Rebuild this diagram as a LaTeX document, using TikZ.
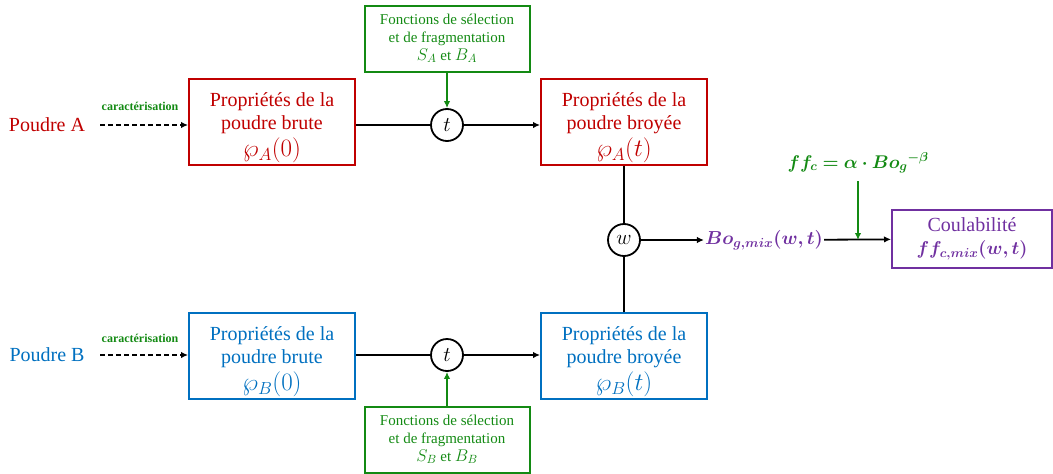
\RequirePackage{fix-cm}
\documentclass[tikz,border=0pt]{standalone}
\usepackage{amsmath,amssymb,bm}
\usepackage{fontspec}
\setmainfont{Liberation Serif}
\newfontfamily\tnr{Liberation Serif}
\usetikzlibrary{arrows.meta}
\definecolor{cred}{HTML}{C00000}
\definecolor{cblue}{HTML}{0070C0}
\definecolor{cgreen}{HTML}{138A13}
\definecolor{cpurple}{HTML}{7030A0}
\newcommand\mbig[1]{{\fontsize{25}{25}\selectfont$#1$}}
\newcommand\mgr[1]{{\fontsize{17}{17}\selectfont$#1$}}
\newcommand\mco[1]{{\fontsize{18.6}{18.6}\selectfont$#1$}}
\newcommand\topstrut{\rule{0pt}{25pt}}
\tikzset{
  pbox/.style={draw, line width=2pt, minimum width=166pt, minimum height=80pt, align=center, font=\tnr\fontsize{20}{23.5}\selectfont, inner sep=2pt},
  gbox/.style={draw=cgreen, line width=2pt, minimum width=165pt, minimum height=66pt, align=center, text=cgreen, font=\tnr\fontsize{15}{18}\selectfont, inner sep=2pt},
  opc/.style={draw, circle, line width=1.8pt, minimum size=32pt, inner sep=0pt, font=\fontsize{21}{21}\selectfont},
  conn/.style={line width=1.8pt},
  arr/.style={line width=1.8pt, -{Latex[length=7pt,width=6.5pt]}},
  dasharr/.style={line width=1.8pt, dash pattern=on 5pt off 3pt, -{Latex[length=7pt,width=6.5pt]}},
  carac/.style={text=cgreen, font=\tnr\fontsize{12}{14}\selectfont\bfseries},
  poudre/.style={font=\tnr\fontsize{20}{22}\selectfont},
}
\begin{document}
\begin{tikzpicture}[x=1pt,y=-1pt]
\useasboundingbox (0,0) rectangle (1053,474);
% row A
\node[poudre, text=cred] (pA) at (47,125) {Poudre A};
\coordinate (dA0) at (100,125);
\node[pbox, draw=cred, text=cred] (A0) at (272,122) {\topstrut Propriétés de la\\poudre brute\\[3pt]\mbig{\wp_A(0)}};
\node[opc] (tA) at (447,125) {$t$};
\node[pbox, draw=cred, text=cred] (At) at (624,122) {\topstrut Propriétés de la\\poudre broyée\\[3pt]\mbig{\wp_A(t)}};
\node[gbox] (gA) at (447,38.5) {Fonctions de sélection\\et de fragmentation\\\mgr{S_A} et \mgr{B_A}};
\draw[dasharr] (dA0) -- (A0.west |- dA0);
\node[carac] (cA) at (140,106) {caractérisation};
\draw[conn] (A0.east |- tA) -- (tA);
\draw[arr] (tA) -- (At.west |- tA);
\draw[arr, cgreen] (gA) -- (tA);
% row B
\node[poudre, text=cblue] (pB) at (47,355) {Poudre B};
\coordinate (dB0) at (100,355);
\node[pbox, draw=cblue, text=cblue] (B0) at (272,356) {\topstrut Propriétés de la\\poudre brute\\[3pt]\mbig{\wp_B(0)}};
\node[opc] (tB) at (447,355) {$t$};
\node[pbox, draw=cblue, text=cblue] (Bt) at (624,356) {\topstrut Propriétés de la\\poudre broyée\\[3pt]\mbig{\wp_B(t)}};
\node[gbox] (gB) at (447,439.5) {Fonctions de sélection\\et de fragmentation\\\mgr{S_B} et \mgr{B_B}};
\draw[dasharr] (dB0) -- (B0.west |- dB0);
\node[carac] (cB) at (140,338) {caractérisation};
\draw[conn] (B0.east |- tB) -- (tB);
\draw[arr] (tB) -- (Bt.west |- tB);
\draw[arr, cgreen] (gB) -- (tB);
% mixing
\node[opc] (w) at (624,240) {$w$};
\draw[conn] (At) -- (w);
\draw[conn] (Bt) -- (w);
\node[text=cpurple, font=\fontsize{18.8}{22}\selectfont, inner sep=1pt] (Bo) at (764,240) {$\boldsymbol{Bo_{g,mix}(w,t)}$};
\draw[arr] (w) -- (Bo);
\node[draw=cpurple, line width=2pt, minimum width=160pt, minimum height=58pt, align=center, text=cpurple, font=\tnr\fontsize{20}{23}\selectfont, inner sep=2pt] (C) at (972,239) {Coulabilité\\\mco{\boldsymbol{ff_{c,mix}(w,t)}}};
\draw[arr] (Bo) -- (C);
\node[text=cgreen, font=\fontsize{18.4}{22}\selectfont] (ff) at (858,163) {$\boldsymbol{ff_c=\alpha\cdot Bo_g{}^{-\beta}}$};
\coordinate (jn) at (858,240);
\coordinate (jtop) at (858,181);
\draw[arr, cgreen] (jtop) -- (jn);
\end{tikzpicture}
\end{document}
